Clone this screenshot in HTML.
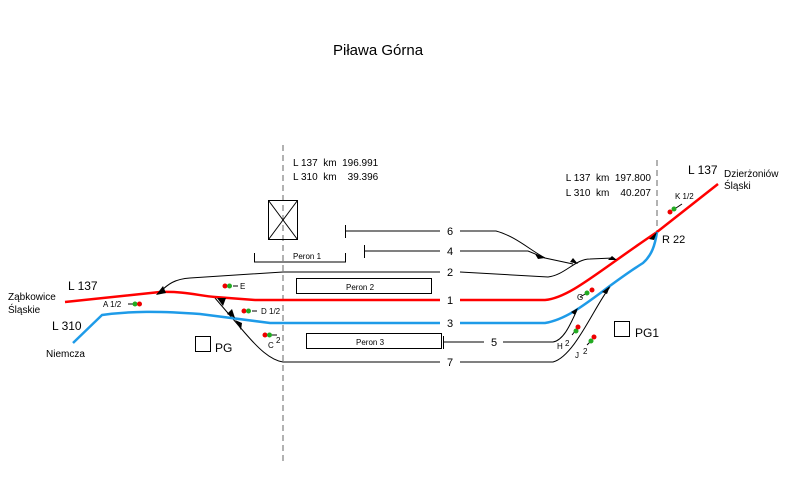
<!DOCTYPE html>
<html><head><meta charset="utf-8"><style>
html,body{margin:0;padding:0;background:#fff;}
svg{display:block;font-family:"Liberation Sans",Arial,sans-serif;}
</style></head><body>
<svg width="785" height="482" viewBox="0 0 785 482" xmlns="http://www.w3.org/2000/svg">
<rect width="785" height="482" fill="#fff"/>
<text x="333" y="55" font-size="15" fill="#000">Piława Górna</text>
<line x1="283" y1="145" x2="283" y2="462" stroke="#666" stroke-width="1" stroke-dasharray="6,4"/>
<line x1="657" y1="160" x2="657" y2="232" stroke="#666" stroke-width="1" stroke-dasharray="6,4"/>
<g font-size="10" fill="#000">
<text x="293" y="166" xml:space="preserve">L 137  km  196.991</text>
<text x="293" y="180" xml:space="preserve">L 310  km    39.396</text>
<text x="651" y="181" text-anchor="end" xml:space="preserve">L 137  km  197.800</text>
<text x="651" y="196" text-anchor="end" xml:space="preserve">L 310  km    40.207</text>
</g>
<g stroke="#000" stroke-width="1" fill="none">
<rect x="268.5" y="200.5" width="29" height="39"/>
<line x1="268.5" y1="200.5" x2="297.5" y2="239.5"/>
<line x1="297.5" y1="200.5" x2="268.5" y2="239.5"/>
<polyline points="254.5,253 254.5,262 345.5,262 345.5,253"/>
<rect x="296.5" y="278.5" width="135" height="15"/>
<rect x="306.5" y="333.5" width="135" height="15"/>
<rect x="195.5" y="336.5" width="15" height="15"/>
<rect x="614.5" y="321.5" width="15" height="15"/>
</g>
<g font-size="8" fill="#000">
<text x="293" y="259">Peron 1</text>
<text x="346" y="290">Peron 2</text>
<text x="356" y="345">Peron 3</text>
</g>
<g stroke="#000" stroke-width="1" fill="none">
<line x1="345.5" y1="225" x2="345.5" y2="238"/>
<path d="M345,231 H440 M460,231 H496 C515,236 530,250 545,258 L573,264"/>
<line x1="364.5" y1="245" x2="364.5" y2="258"/>
<path d="M364,251 H440 M460,251 H528 L545,258"/>
<path d="M160,292 C168,284 175,279 190,278 L283,272 H440 M460,272 L548,277 C565,275 575,259 590,259 L613,258"/>
<path d="M215,298 L245,333 C258,348 270,360 283,362 H440 M460,362 H553 C575,356 595,305 610,287"/>
<line x1="443.5" y1="336" x2="443.5" y2="349"/>
<path d="M443,342 H484 M503,342 H553 C565,340 572,320 578,308"/>
</g>
<path d="M65,302 L160,292 C185,291 200,296 215,297 L255,300 H440 M460,300 H545 C570,298 600,270 657,232 L718,184" stroke="#f00" stroke-width="2.5" fill="none"/>
<path d="M73,343 L102,315 C130,311 160,311 200,314 L270,323 H440 M460,323 H545 C575,318 600,290 643,263 C652,255 655,245 657,232" stroke="#1e9be8" stroke-width="2.5" fill="none"/>
<g font-size="11" fill="#000" text-anchor="middle">
<text x="450" y="235">6</text>
<text x="450" y="255">4</text>
<text x="450" y="276">2</text>
<text x="450" y="304">1</text>
<text x="450" y="327">3</text>
<text x="494" y="346">5</text>
<text x="450" y="366">7</text>
</g>
<g fill="#000">
<polygon points="156,295 166,293 163,286"/>
<polygon points="217,298 226,298 223,306"/>
<polygon points="227,314 235,318 232,309"/>
<polygon points="235,320 242,323 241,330"/>
<polygon points="570,262 578,264 573,258"/>
<polygon points="535,254 545,258 538,259"/>
<polygon points="608,260 617,260 612,256"/>
<polygon points="649,239 657,232 654,240"/>
<polygon points="610,286 602,292 607,294"/>
<polygon points="578,308 571,312 575,315"/>
</g>
<g stroke="#000" stroke-width="1">
<line x1="233" y1="286" x2="238" y2="286"/>
<line x1="137" y1="304" x2="128" y2="304"/>
<line x1="252" y1="311" x2="257" y2="311"/>
<line x1="272" y1="335" x2="277" y2="335"/>
<line x1="580" y1="297" x2="587" y2="293"/>
<line x1="572" y1="335" x2="576" y2="330"/>
<line x1="587" y1="345" x2="591" y2="341"/>
<line x1="676" y1="208" x2="682" y2="204"/>
</g>
<g>
<circle cx="225" cy="286" r="2.5" fill="#e00"/><circle cx="229.5" cy="286" r="2.5" fill="#2a2"/>
<circle cx="135" cy="304" r="2.5" fill="#2a2"/><circle cx="139.5" cy="304" r="2.5" fill="#e00"/>
<circle cx="244" cy="311" r="2.5" fill="#e00"/><circle cx="248.5" cy="311" r="2.5" fill="#2a2"/>
<circle cx="265" cy="335" r="2.5" fill="#e00"/><circle cx="269.5" cy="335" r="2.5" fill="#2a2"/>
<circle cx="587" cy="293" r="2.5" fill="#2a2"/><circle cx="592" cy="290" r="2.5" fill="#e00"/>
<circle cx="576" cy="331" r="2.5" fill="#2a2"/><circle cx="578" cy="327" r="2.5" fill="#e00"/>
<circle cx="591" cy="341" r="2.5" fill="#2a2"/><circle cx="594" cy="337" r="2.5" fill="#e00"/>
<circle cx="670" cy="212" r="2.5" fill="#e00"/><circle cx="674" cy="209" r="2.5" fill="#2a2"/>
</g>
<g font-size="8" fill="#000">
<text x="240" y="289">E</text>
<text x="103" y="307">A 1/2</text>
<text x="261" y="314">D 1/2</text>
<text x="268" y="348">C</text><text x="276" y="343">2</text>
<text x="577" y="300">G</text>
<text x="557" y="349">H</text><text x="565" y="346">2</text>
<text x="575" y="358">J</text><text x="583" y="354">2</text>
<text x="675" y="199">K 1/2</text>
</g>
<g font-size="12" fill="#000">
<text x="68" y="290">L 137</text>
<text x="52" y="330">L 310</text>
<text x="688" y="174">L 137</text>
<text x="215" y="352">PG</text>
<text x="635" y="337">PG1</text>
</g>
<g font-size="10" fill="#000">
<text x="8" y="300">Ząbkowice</text>
<text x="8" y="313">Śląskie</text>
<text x="46" y="357">Niemcza</text>
<text x="724" y="177">Dzierżoniów</text>
<text x="724" y="189">Śląski</text>
<text x="662" y="243" font-size="11">R 22</text>
</g>
</svg>
</body></html>
